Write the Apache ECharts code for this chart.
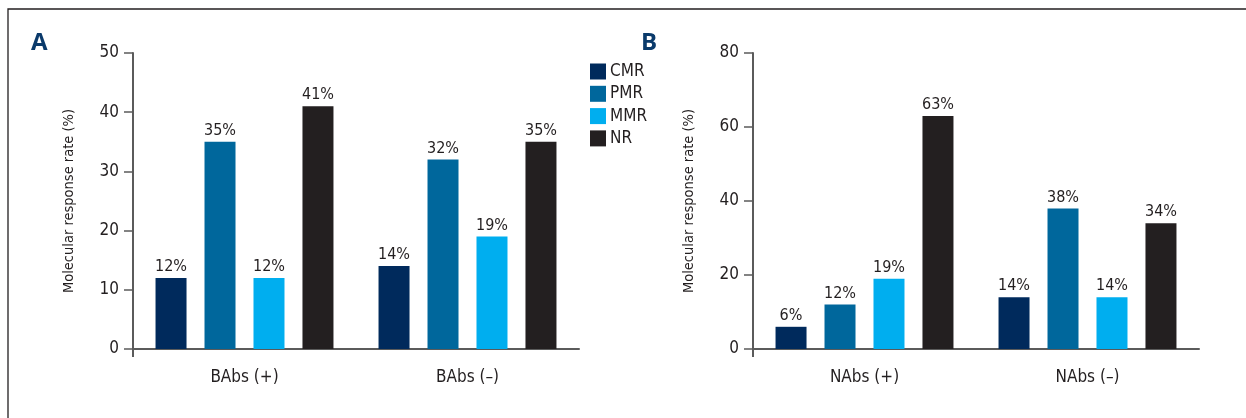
<!DOCTYPE html>
<html>
<head>
<meta charset="utf-8">
<script src="https://cdn.jsdelivr.net/npm/echarts@6/dist/echarts.min.js"></script>
<style>
  html, body { margin: 0; padding: 0; background: #fff; }
  #chart { width: 1246px; height: 418px; }
</style>
</head>
<body>
<div id="chart"></div>
<script>
// Molecular response rates by antibody status
const seriesNames = ['CMR', 'PMR', 'MMR', 'NR'];
const seriesColors = ['#002a5c', '#00679c', '#00aeef', '#231f20'];

// Panel A: binding antibodies
const catsA = ['BAbs (+)', 'BAbs (\u2013)'];
const cmrA = [12, 14];
const pmrA = [35, 32];
const mmrA = [12, 19];
const nrA  = [41, 35];

// Panel B: neutralizing antibodies
const catsB = ['NAbs (+)', 'NAbs (\u2013)'];
const cmrB = [6, 14];
const pmrB = [12, 38];
const mmrB = [19, 14];
const nrB  = [63, 34];

const yTitle = 'Molecular response rate (%)';
const FONT = '"Liberation Sans Narrow", "DejaVu Sans Condensed", "Liberation Sans", sans-serif';
const INK = '#231f20';
const AXIS = '#5b5b5b';

const chart = echarts.init(document.getElementById('chart'));

function xAxisFor(cats, gridIndex) {
  return {
    type: 'category', gridIndex, data: cats,
    axisLine: { lineStyle: { color: AXIS, width: 2 } },
    axisTick: { alignWithLabel: true, length: 7, lineStyle: { color: AXIS, width: 1.5 } },
    axisLabel: { color: INK, fontFamily: FONT, fontSize: 17, margin: 20 }
  };
}
function yAxisFor(max, interval, gridIndex) {
  return {
    type: 'value', gridIndex, min: 0, max, interval,
    name: yTitle, nameLocation: 'middle', nameGap: 56, nameRotate: 90,
    nameTextStyle: { color: INK, fontFamily: FONT, fontSize: 14.5 },
    splitLine: { show: false },
    axisLine: { show: true, lineStyle: { color: AXIS, width: 2 } },
    axisTick: { show: true, length: 9, lineStyle: { color: AXIS, width: 1.5 } },
    axisLabel: { color: INK, fontFamily: FONT, fontSize: 17, margin: 14 }
  };
}
function barsFor(values, idx, gridIndex) {
  return {
    type: 'bar', name: seriesNames[idx], data: values,
    xAxisIndex: gridIndex, yAxisIndex: gridIndex,
    barWidth: 31, barGap: '58%',
    itemStyle: { color: seriesColors[idx] },
    label: {
      show: true, position: 'top', distance: 3, formatter: '{c}%',
      color: INK, fontFamily: FONT, fontSize: 16
    }
  };
}

const gridA = { left: 133, top: 53, width: 446, height: 296 };
const gridB = { left: 753, top: 53, width: 446, height: 296 };

chart.setOption({
  animation: false,
  backgroundColor: '#fff',
  title: [
    { text: 'A', left: 31, top: 31, padding: 0, textStyle: { color: '#0a3a6b', fontSize: 24, fontWeight: 'bold', fontFamily: '"Open Sans", sans-serif' } },
    { text: 'B', left: 641, top: 31, padding: 0, textStyle: { color: '#0a3a6b', fontSize: 24, fontWeight: 'bold', fontFamily: '"Open Sans", sans-serif' } }
  ],
  legend: {
    data: seriesNames, orient: 'vertical', left: 590, top: 63, padding: 0,
    itemWidth: 16, itemHeight: 16, itemGap: 5.3, icon: 'rect',
    textStyle: { color: INK, fontFamily: FONT, fontSize: 17, padding: [0, 0, 0, -1] }
  },
  grid: [gridA, gridB],
  xAxis: [xAxisFor(catsA, 0), xAxisFor(catsB, 1)],
  yAxis: [yAxisFor(50, 10, 0), yAxisFor(80, 20, 1)],
  series: [
    barsFor(cmrA, 0, 0), barsFor(pmrA, 1, 0), barsFor(mmrA, 2, 0), barsFor(nrA, 3, 0),
    barsFor(cmrB, 0, 1), barsFor(pmrB, 1, 1), barsFor(mmrB, 2, 1), barsFor(nrB, 3, 1)
  ]
});

// Frame around the figure plus the short y-axis stubs below each origin
const rectA = chart.getModel().getComponent('grid', 0).coordinateSystem.getRect();
const rectB = chart.getModel().getComponent('grid', 1).coordinateSystem.getRect();
function stub(rect) {
  const y0 = rect.y + rect.height;
  return {
    type: 'line', silent: true,
    shape: { x1: rect.x, y1: y0, x2: rect.x, y2: y0 + 8 },
    style: { stroke: AXIS, lineWidth: 2 }
  };
}
chart.setOption({
  graphic: [
    { type: 'rect', silent: true, shape: { x: 8, y: 9, width: 1400, height: 600 },
      style: { fill: null, stroke: INK, lineWidth: 1.3 } },
    stub(rectA), stub(rectB)
  ]
});
</script>
</body>
</html>
